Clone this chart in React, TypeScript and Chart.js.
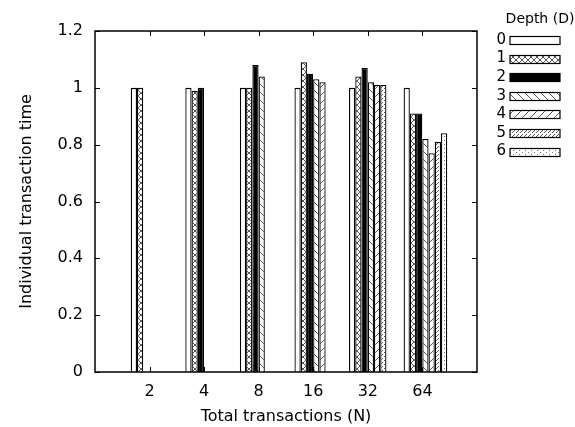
import React, { useEffect, useRef } from 'react';
import { Chart, registerables } from 'chart.js';

Chart.register(...registerables);

// ---- data ----
const categories = ['2', '4', '8', '16', '32', '64'];
const depthLabels = ['0', '1', '2', '3', '4', '5', '6'];
const depth0 = [1.0, 1.0, 1.0, 1.0, 1.0, 1.0];
const depth1 = [1.0, 0.99, 1.0, 1.09, 1.04, 0.91];
const depth2 = [null, 1.0, 1.08, 1.05, 1.07, 0.91];
const depth3 = [null, null, 1.04, 1.03, 1.02, 0.82];
const depth4 = [null, null, null, 1.02, 1.01, 0.77];
const depth5 = [null, null, null, null, 1.01, 0.81];
const depth6 = [null, null, null, null, null, 0.84];
const yMin = 0;
const yMax = 1.2;
const yStep = 0.2;
const legendTitle = 'Depth (D)';
const xTitle = 'Total transactions (N)';
const yTitle = 'Individual transaction time';

const FONT = "'DejaVu Sans', Verdana, sans-serif";
// gnuplot draws each cluster slightly right of its tic
const CLUSTER_SHIFT = 0.055;

type PatternKind = 'empty' | 'cross' | 'solid' | 'back' | 'fwd' | 'dense' | 'light';
const patternKinds: PatternKind[] = ['empty', 'cross', 'solid', 'back', 'fwd', 'dense', 'light'];

function makeFill(kind: PatternKind): string | CanvasPattern {
  if (kind === 'empty') return '#ffffff';
  if (kind === 'solid') return '#000000';
  const c = document.createElement('canvas');
  let w = 8, h = 8;
  if (kind === 'cross') { w = 6; h = 6; }
  if (kind === 'dense') { w = 4; h = 4; }
  if (kind === 'light') { w = 6; h = 4; }
  c.width = w; c.height = h;
  const g = c.getContext('2d')!;
  g.fillStyle = '#ffffff';
  g.fillRect(0, 0, w, h);
  g.strokeStyle = '#444';
  g.fillStyle = '#555';
  g.lineWidth = 0.9;
  if (kind === 'cross') {
    g.beginPath();
    g.moveTo(-1, -1); g.lineTo(w + 1, h + 1);
    g.moveTo(w + 1, -1); g.lineTo(-1, h + 1);
    g.stroke();
  } else if (kind === 'back') {
    g.beginPath();
    g.moveTo(-1, -1); g.lineTo(w + 1, h + 1);
    g.stroke();
  } else if (kind === 'fwd') {
    g.beginPath();
    g.moveTo(-1, h + 1); g.lineTo(w + 1, -1);
    g.stroke();
  } else if (kind === 'dense') {
    g.fillRect(0, 0, 1, 1);
    g.fillRect(2, 2, 1, 1);
    g.fillRect(1, 3, 1, 1);
  } else if (kind === 'light') {
    g.fillStyle = '#777';
    g.fillRect(0, 0, 1, 1);
    g.fillRect(3, 2, 1, 1);
  }
  return g.createPattern(c, 'repeat') as CanvasPattern;
}

const framePlugin = {
  id: 'gnuFrame',
  afterDatasetsDraw(chart: any) {
    const { ctx, chartArea: a, scales } = chart;
    ctx.save();
    ctx.strokeStyle = '#000';
    ctx.lineWidth = 1.5;
    ctx.strokeRect(a.left, a.top, a.right - a.left, a.bottom - a.top);
    ctx.lineWidth = 1;
    const ys = scales.y;
    ctx.beginPath();
    ys.ticks.forEach((t: any) => {
      const py = Math.round(ys.getPixelForValue(t.value)) + 0.5;
      ctx.moveTo(a.left, py); ctx.lineTo(a.left + 5, py);
      ctx.moveTo(a.right, py); ctx.lineTo(a.right - 5, py);
    });
    const xs = scales.x;
    categories.forEach((_c, i) => {
      const px = Math.round(xs.getPixelForValue(i + 1)) + 0.5;
      ctx.moveTo(px, a.bottom); ctx.lineTo(px, a.bottom - 5);
      ctx.moveTo(px, a.top); ctx.lineTo(px, a.top + 5);
    });
    ctx.stroke();
    ctx.restore();
  },
  afterDraw(chart: any) {
    const { ctx } = chart;
    ctx.save();
    ctx.fillStyle = '#000';
    ctx.font = `14px ${FONT}`;
    ctx.textBaseline = 'middle';
    ctx.textAlign = 'center';
    ctx.fillText(legendTitle, 540, 19);
    chart.data.datasets.forEach((ds: any, i: number) => {
      const cy = 40 + i * 18.6;
      ctx.textAlign = 'right';
      ctx.fillStyle = '#000';
      ctx.font = `15px ${FONT}`;
      ctx.fillText(ds.label, 506, cy);
      ctx.fillStyle = ds.backgroundColor;
      ctx.fillRect(510, Math.round(cy) - 3.5, 50, 8);
      ctx.strokeStyle = '#000';
      ctx.lineWidth = 1.2;
      ctx.strokeRect(510, Math.round(cy) - 3.5, 50, 8);
    });
    ctx.restore();
  },
};

export default function App() {
  const ref = useRef<HTMLCanvasElement | null>(null);
  useEffect(() => {
    document.body.style.margin = '0';
    const canvas = ref.current;
    if (!canvas) return;
    const series = [depth0, depth1, depth2, depth3, depth4, depth5, depth6];
    const labels = ['', ...categories, ''];
    const datasets = series.map((vals, i) => ({
      label: depthLabels[i],
      xAxisID: 'xb',
      data: vals.map((v, k) => ({ x: k + 1, y: v })),
      backgroundColor: makeFill(patternKinds[i]),
      borderColor: '#000',
      borderWidth: 1.3,
      categoryPercentage: 0.8,
      barPercentage: 1.0,
    }));
    const chart = new Chart(canvas, {
      type: 'bar',
      data: { labels, datasets: datasets as any },
      options: {
        animation: false,
        responsive: true,
        maintainAspectRatio: false,
        layout: { padding: { top: 31, right: 98, left: 0, bottom: 0 } },
        plugins: {
          legend: { display: false },
          tooltip: { enabled: false },
        },
        scales: {
          x: {
            type: 'category',
            offset: false,
            grid: { display: false, drawTicks: false },
            border: { display: false },
            ticks: {
              autoSkip: false,
              maxRotation: 0,
              padding: 10,
              color: '#000',
              font: { family: FONT, size: 16 },
            },
            title: {
              display: true,
              text: xTitle,
              color: '#000',
              font: { family: FONT, size: 16 },
              padding: { top: 0, bottom: 1 },
            },
            afterFit(scale: any) { scale.height = 55; },
          },
          xb: {
            type: 'linear',
            display: false,
            offset: false,
            min: -CLUSTER_SHIFT,
            max: labels.length - 1 - CLUSTER_SHIFT,
            grid: { display: false },
          },
          y: {
            min: yMin,
            max: yMax,
            grid: { display: false, drawTicks: false },
            border: { display: false },
            ticks: {
              stepSize: yStep,
              padding: 12,
              color: '#000',
              font: { family: FONT, size: 16 },
              callback: (v: any) => String(Number(Number(v).toFixed(1))),
            },
            title: {
              display: true,
              text: yTitle,
              color: '#000',
              font: { family: FONT, size: 16 },
              padding: { top: 17, bottom: 0 },
            },
            afterFit(scale: any) { scale.width = 95; },
          },
        },
      },
      plugins: [framePlugin],
    });
    return () => chart.destroy();
  }, []);
  return (
    <div style={{ width: 575, height: 427, position: 'relative' }}>
      <canvas ref={ref} />
    </div>
  );
}
